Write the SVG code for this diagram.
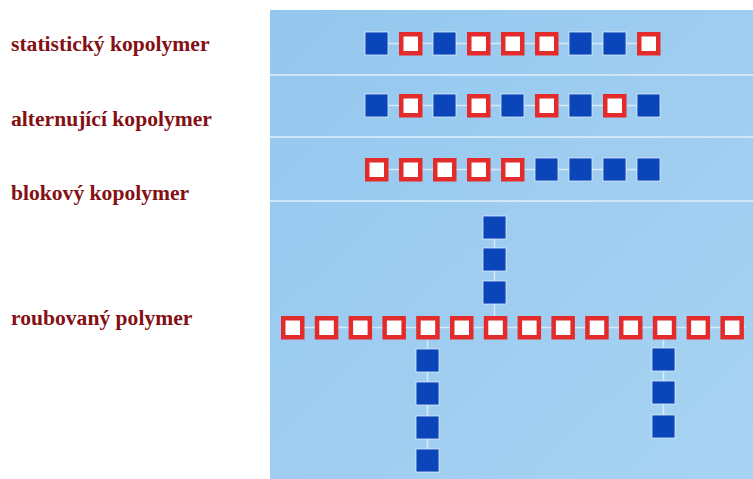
<svg xmlns="http://www.w3.org/2000/svg" xmlns:xlink="http://www.w3.org/1999/xlink" width="753" height="479" viewBox="0 0 753 479">
<style>
.lbl{font-family:"Liberation Serif","Times New Roman",serif;font-weight:bold;font-size:21.6px;fill:#841014}
.sep{stroke:#eef6fd;stroke-width:1.5;opacity:.85}
.link{stroke:#e6f2fc;stroke-width:1.5;opacity:.8}
</style>
<defs>
<linearGradient id="bg" x1="0" y1="0" x2="1" y2="1">
<stop offset="0" stop-color="#94c7ee"/>
<stop offset="1" stop-color="#a8d3f3"/>
</linearGradient>
<rect id="b" width="23" height="23" fill="#0a45b9" stroke="#dcecfa" stroke-width="0.8"/>
<g id="r"><rect x="2.25" y="2.25" width="19" height="19" fill="#ffffff" stroke="#e42b2b" stroke-width="4.5"/></g>
</defs>
<rect width="753" height="479" fill="#ffffff"/>
<rect x="270" y="10" width="483" height="469" fill="url(#bg)"/>
<line class="sep" x1="270" y1="75" x2="753" y2="75"/>
<line class="sep" x1="270" y1="137" x2="753" y2="137"/>
<line class="sep" x1="270" y1="201" x2="753" y2="201"/>
<text class="lbl" x="11" y="51">statistický kopolymer</text>
<text class="lbl" x="11" y="126">alternující kopolymer</text>
<text class="lbl" x="11" y="200">blokový kopolymer</text>
<text class="lbl" x="11" y="325">roubovaný polymer</text>
<g id="connectors">
<line class="link" x1="365" y1="43.5" x2="661" y2="43.5"/>
<line class="link" x1="365" y1="105.5" x2="661" y2="105.5"/>
<line class="link" x1="365" y1="169.5" x2="661" y2="169.5"/>
<line class="link" x1="281" y1="327.5" x2="745" y2="327.5"/>
<line class="link" x1="494.5" y1="216" x2="494.5" y2="316"/>
<line class="link" x1="427.5" y1="339" x2="427.5" y2="472"/>
<line class="link" x1="663.5" y1="339" x2="663.5" y2="438"/>
</g>
<g id="statisticky">
<g id="s1"><use xlink:href="#b" x="365" y="32"/></g>
<g id="s2"><use xlink:href="#r" x="399" y="32"/></g>
<g id="s3"><use xlink:href="#b" x="433" y="32"/></g>
<g id="s4"><use xlink:href="#r" x="467" y="32"/></g>
<g id="s5"><use xlink:href="#r" x="501" y="32"/></g>
<g id="s6"><use xlink:href="#r" x="535" y="32"/></g>
<g id="s7"><use xlink:href="#b" x="569" y="32"/></g>
<g id="s8"><use xlink:href="#b" x="603" y="32"/></g>
<g id="s9"><use xlink:href="#r" x="637" y="32"/></g>
</g>
<g id="alternujici">
<g id="a1"><use xlink:href="#b" x="365" y="94"/></g>
<g id="a2"><use xlink:href="#r" x="399" y="94"/></g>
<g id="a3"><use xlink:href="#b" x="433" y="94"/></g>
<g id="a4"><use xlink:href="#r" x="467" y="94"/></g>
<g id="a5"><use xlink:href="#b" x="501" y="94"/></g>
<g id="a6"><use xlink:href="#r" x="535" y="94"/></g>
<g id="a7"><use xlink:href="#b" x="569" y="94"/></g>
<g id="a8"><use xlink:href="#r" x="603" y="94"/></g>
<g id="a9"><use xlink:href="#b" x="637" y="94"/></g>
</g>
<g id="blokovy">
<g id="k1"><use xlink:href="#r" x="365" y="158"/></g>
<g id="k2"><use xlink:href="#r" x="399" y="158"/></g>
<g id="k3"><use xlink:href="#r" x="433" y="158"/></g>
<g id="k4"><use xlink:href="#r" x="467" y="158"/></g>
<g id="k5"><use xlink:href="#r" x="501" y="158"/></g>
<g id="k6"><use xlink:href="#b" x="535" y="158"/></g>
<g id="k7"><use xlink:href="#b" x="569" y="158"/></g>
<g id="k8"><use xlink:href="#b" x="603" y="158"/></g>
<g id="k9"><use xlink:href="#b" x="637" y="158"/></g>
</g>
<g id="roubovany">
<g id="g1"><use xlink:href="#r" x="281" y="316"/></g>
<g id="g2"><use xlink:href="#r" x="314.8" y="316"/></g>
<g id="g3"><use xlink:href="#r" x="348.6" y="316"/></g>
<g id="g4"><use xlink:href="#r" x="382.4" y="316"/></g>
<g id="g5"><use xlink:href="#r" x="416.2" y="316"/></g>
<g id="g6"><use xlink:href="#r" x="450" y="316"/></g>
<g id="g7"><use xlink:href="#r" x="483.8" y="316"/></g>
<g id="g8"><use xlink:href="#r" x="517.6" y="316"/></g>
<g id="g9"><use xlink:href="#r" x="551.4" y="316"/></g>
<g id="g10"><use xlink:href="#r" x="585.2" y="316"/></g>
<g id="g11"><use xlink:href="#r" x="619" y="316"/></g>
<g id="g12"><use xlink:href="#r" x="652.8" y="316"/></g>
<g id="g13"><use xlink:href="#r" x="686.6" y="316"/></g>
<g id="g14"><use xlink:href="#r" x="720.4" y="316"/></g>
<g id="u1"><use xlink:href="#b" x="483" y="216"/></g>
<g id="u2"><use xlink:href="#b" x="483" y="248"/></g>
<g id="u3"><use xlink:href="#b" x="483" y="281"/></g>
<g id="d1"><use xlink:href="#b" x="416" y="349"/></g>
<g id="d2"><use xlink:href="#b" x="416" y="382"/></g>
<g id="d3"><use xlink:href="#b" x="416" y="416"/></g>
<g id="d4"><use xlink:href="#b" x="416" y="449"/></g>
<g id="e1"><use xlink:href="#b" x="652" y="348"/></g>
<g id="e2"><use xlink:href="#b" x="652" y="381"/></g>
<g id="e3"><use xlink:href="#b" x="652" y="415"/></g>
</g>
</svg>
